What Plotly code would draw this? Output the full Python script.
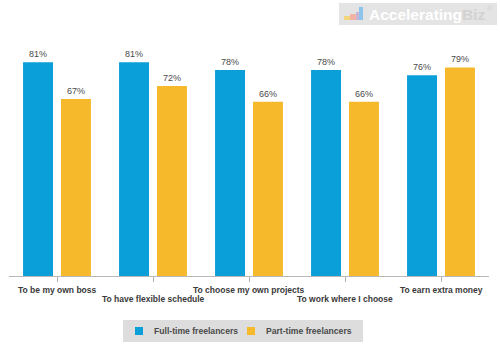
import plotly.graph_objects as go

categories = ["To be my own boss", "To have flexible schedule", "To choose my own projects",
              "To work where I choose", "To earn extra money"]
full_time = [81, 81, 78, 78, 76]
part_time = [67, 72, 66, 66, 79]
series_names = ["Full-time freelancers", "Part-time freelancers"]

BLUE = "#0A9FD8"
ORANGE = "#F7B92C"
FONT = "Liberation Sans, Arial"

# page-pixel layout of the plot area
PLOT_L, PLOT_R, PLOT_T, PLOT_B = 9, 489, 12, 276
W, H = 500, 357


def px(x):
    return (x - PLOT_L) / (PLOT_R - PLOT_L)


def py(y):
    return (PLOT_B - y) / (PLOT_B - PLOT_T)


fig = go.Figure()
for name, vals, col in [(series_names[0], full_time, BLUE), (series_names[1], part_time, ORANGE)]:
    fig.add_trace(go.Bar(
        x=categories, y=vals, name=name, marker=dict(color=col, line=dict(width=0)),
        text=[f"{v}%" for v in vals], textposition="outside", cliponaxis=False,
        textfont=dict(family=FONT, size=9, color="#4a4a4a"), showlegend=False,
        hoverinfo="skip",
    ))

annotations = []
for i, c in enumerate(categories):
    annotations.append(dict(
        x=c, y=0, xref="x", yref="y", text=f"<b>{c}</b>", showarrow=False,
        yanchor="top", yshift=-7 if i % 2 == 0 else -16,
        font=dict(family=FONT, size=8.5, color="#3a3a3a"),
    ))

# logo
annotations.append(dict(
    xref="paper", yref="paper", x=px(367), y=py(14.5),
    xanchor="left", yanchor="middle", showarrow=False,
    text="<b>Accelerating</b><b><span style='color:#d2d2d2'>Biz</span></b>",
    font=dict(family=FONT, size=15.5, color="white"),
))
annotations.append(dict(
    xref="paper", yref="paper", x=px(485), y=py(9),
    xanchor="left", yanchor="middle", showarrow=False,
    text="®", font=dict(family=FONT, size=7, color="#d2d2d2"),
))


def px_rect(x0, y0, x1, y1, color, layer="below"):
    return dict(type="rect", xref="paper", yref="paper",
                x0=px(x0), x1=px(x1), y0=py(y1), y1=py(y0),
                fillcolor=color, line=dict(width=0), layer=layer)


shapes = [
    px_rect(339, 3, 497, 25, "#e4e4e4"),
    px_rect(344, 16, 350, 20, "#f3d57e"),
    px_rect(350, 14, 356, 20, "#f2b2a4"),
    px_rect(356, 12, 359, 20, "#c9b6d6"),
    px_rect(359, 7, 363, 20, "#8cc4ec"),
]

# legend drawn manually
shapes.append(px_rect(123, 320, 363, 342, "#dddddd", layer="below"))
legend_items = [(series_names[0], BLUE, 135, 153), (series_names[1], ORANGE, 247, 265)]
for name, col, sx, tx in legend_items:
    shapes.append(px_rect(sx, 327, sx + 8, 335, col, layer="above"))
    annotations.append(dict(
        xref="paper", yref="paper", x=px(tx - 1), y=py(331), xanchor="left", yanchor="middle",
        showarrow=False, text=f"<b>{name}</b>",
        font=dict(family=FONT, size=8.6, color="#4a4a4a"),
    ))

fig.update_layout(
    width=W, height=H,
    margin=dict(l=PLOT_L, r=W - PLOT_R, t=PLOT_T, b=H - PLOT_B, autoexpand=False),
    paper_bgcolor="white", plot_bgcolor="white",
    barmode="group", bargap=0.21, bargroupgap=0.21,
    showlegend=False, hovermode=False,
    annotations=annotations,
    shapes=shapes,
    xaxis=dict(showticklabels=False, ticks="outside", ticklen=5, tickcolor="#b0b0b0",
               showline=True, linecolor="#b8b8b8", linewidth=1, showgrid=False, zeroline=False),
    yaxis=dict(range=[0, 100], visible=False, showgrid=False, zeroline=False),
)

fig.write_html("out.html", config={"displayModeBar": False},
               post_script="document.body.style.margin='0';document.body.style.overflow='hidden';")
